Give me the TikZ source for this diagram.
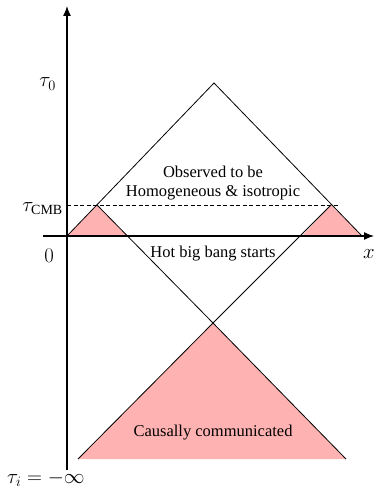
\documentclass[tikz,border=0pt]{standalone}
\usepackage{fontspec}
\setmainfont{Liberation Serif}
\usetikzlibrary{arrows.meta}
\definecolor{conepink}{RGB}{255,178,178}
\begin{document}
\begin{tikzpicture}[x=1pt,y=-1pt,
  axis/.style={line width=1.3pt,-{Latex[length=10pt,width=8pt]}},
  cone/.style={line width=0.8pt,black},
  region/.style={fill=conepink,draw=none},
  txt/.style={inner sep=0pt,anchor=base,font=\fontsize{16.5}{19}\selectfont},
  mlab/.style={inner sep=0pt,font=\fontsize{20}{24}\selectfont}]
\useasboundingbox (0,0) rectangle (377,492);
% key points
\coordinate (O) at (67,236);
\coordinate (ytop) at (67,6);
\coordinate (ybot) at (67,470);
\coordinate (xl) at (43,236);
\coordinate (xr) at (374,236);
\coordinate (A) at (214,83);
\coordinate (L1) at (97,205);
\coordinate (L2) at (127,236);
\coordinate (R1) at (331,205);
\coordinate (R2) at (302,236);
\coordinate (R3) at (362,236);
\coordinate (B) at (213,323);
\coordinate (BL) at (78,459);
\coordinate (BR) at (346,459);
\coordinate (D1) at (67,205);
\coordinate (D2) at (339,205);
% pink regions
\fill[region] (O) -- (L1) -- (L2) -- cycle;
\fill[region] (R2) -- (R1) -- (R3) -- cycle;
\fill[region] (B) -- (BL) -- (BR) -- cycle;
% cones
\draw[cone] (O) -- (A) -- (R3);
\draw[cone] (L1) -- (B) -- (R1);
\draw[cone] (BL) -- (B) -- (BR);
\draw[line width=0.7pt,dash pattern=on 4pt off 2.5pt] (D1) -- (D2);
% axes
\draw[axis] (ybot) -- (ytop);
\draw[axis] (xl) -- (xr);
% texts
\node[txt] (t1) at (213,177) {Observed to be};
\node[txt] (t2) at (213,196) {Homogeneous \& isotropic};
\node[txt] (t3) at (213,257) {Hot big bang starts};
\node[txt] (t4) at (213,436) {Causally communicated};
% math labels
\node[mlab,anchor=base east] (tau0) at (56,87) {$\tau_0$};
\node[mlab,anchor=base east] (taucmb) at (63,211) {$\tau_{\mathrm{CMB}}$};
\node[mlab,anchor=base east] (zero) at (54,262) {$0$};
\node[mlab,anchor=base] (xlab) at (369,258) {$x$};
\node[mlab,anchor=base west] (taui) at (7,483) {$\tau_i = -\infty$};
\end{tikzpicture}
\end{document}
